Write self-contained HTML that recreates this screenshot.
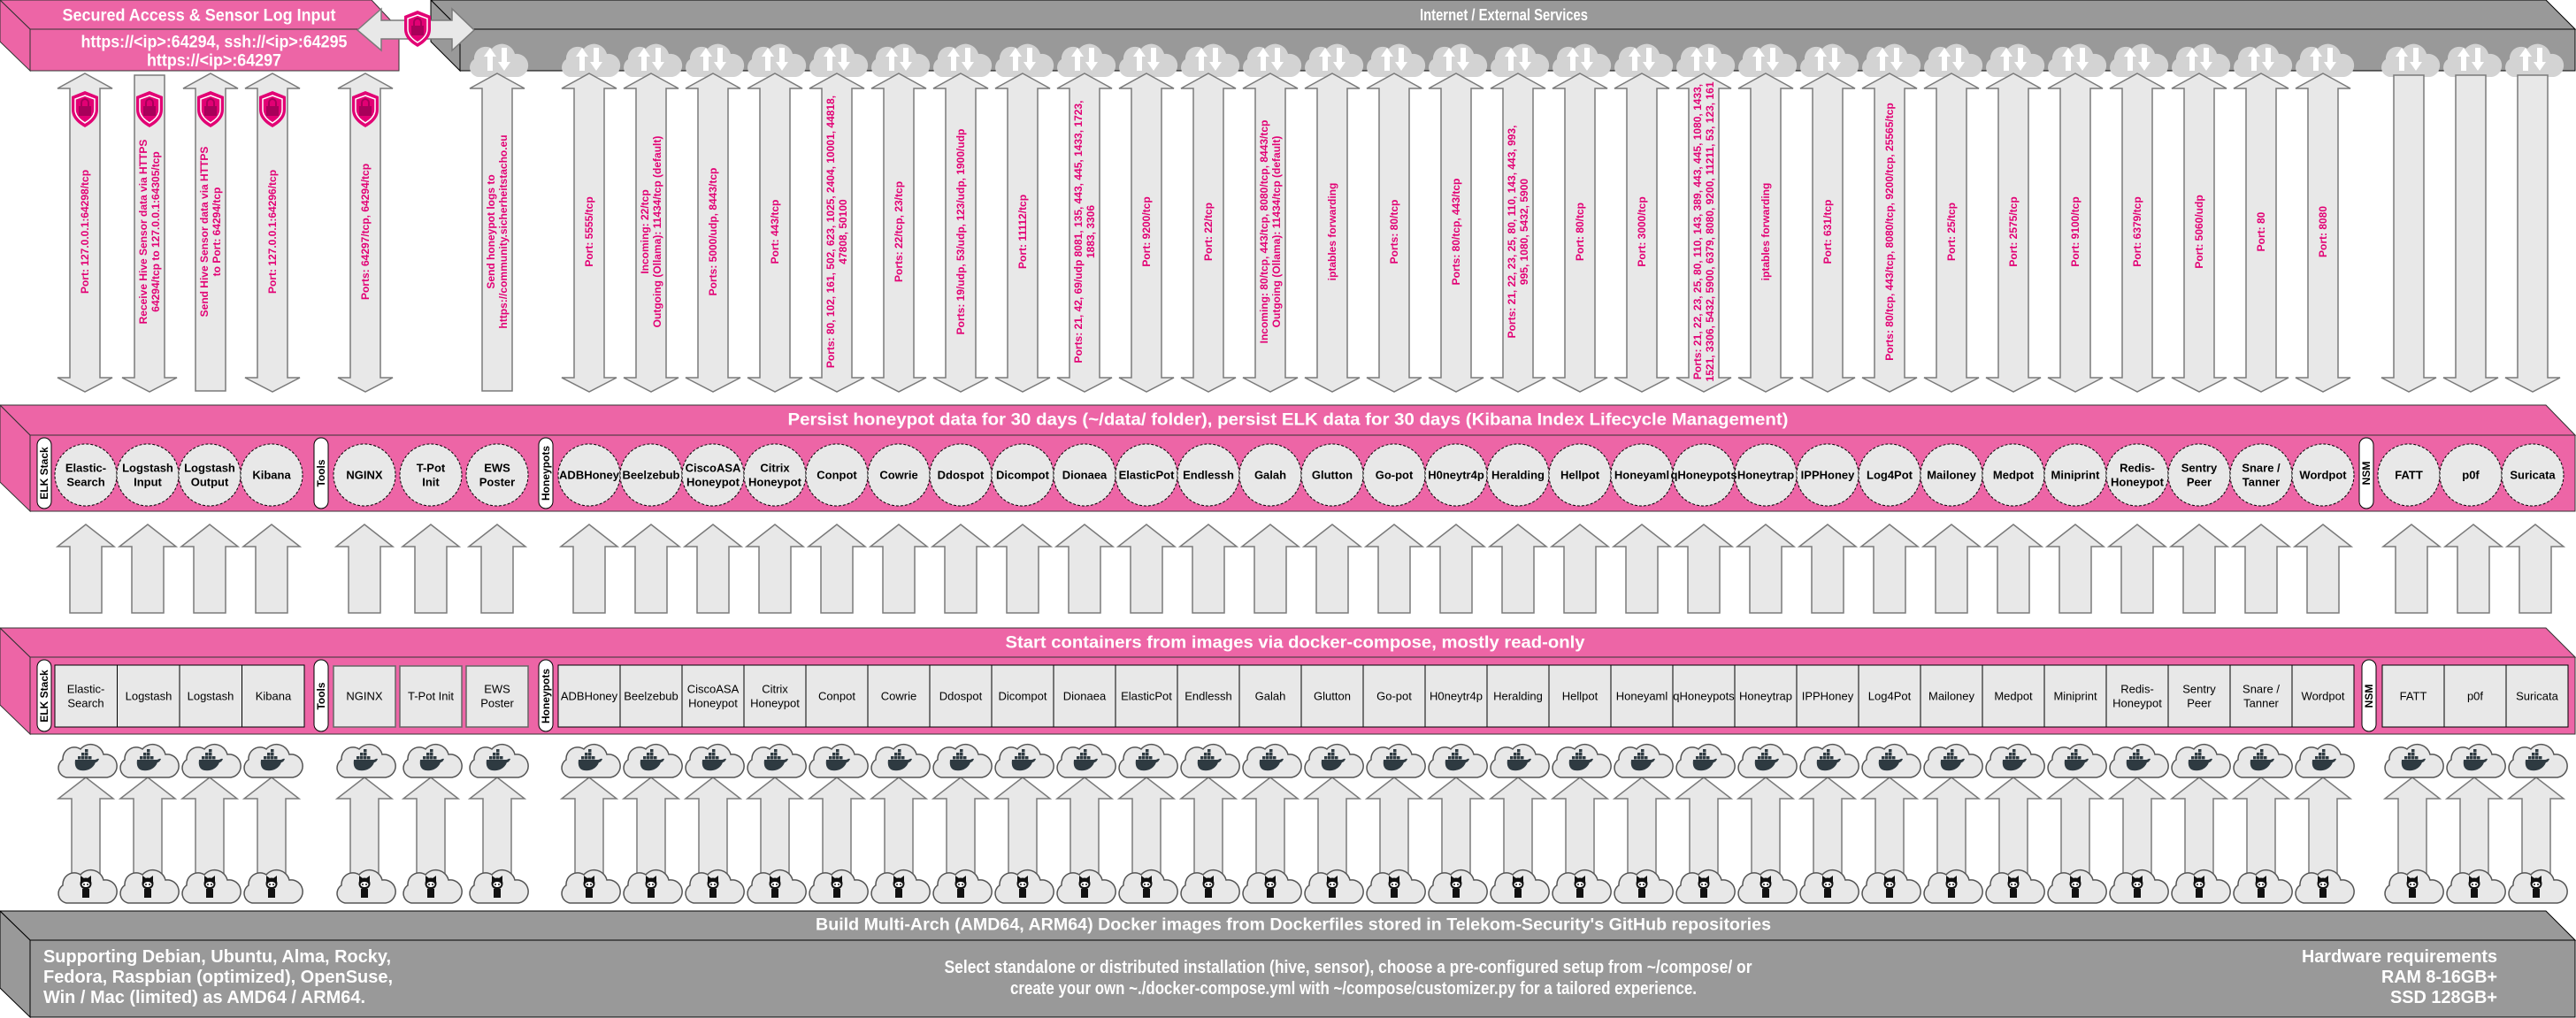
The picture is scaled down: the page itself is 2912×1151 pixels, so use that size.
<!DOCTYPE html>
<html><head><meta charset="utf-8"><style>
html,body{margin:0;padding:0;background:#fff;}
svg{display:block;font-family:"Liberation Sans",Arial,sans-serif;}
.pt{fill:#e20074;font-size:12px;font-weight:bold;text-anchor:middle;dominant-baseline:central;}
.wt{fill:#fff;font-weight:bold;text-anchor:middle;dominant-baseline:central;}
.cb{fill:#000;font-size:13px;font-weight:bold;text-anchor:middle;dominant-baseline:central;}
.cn{fill:#000;font-size:13px;text-anchor:middle;dominant-baseline:central;}
.pl{fill:#000;font-size:12px;font-weight:bold;text-anchor:middle;dominant-baseline:central;}
</style></head><body>
<svg width="2912" height="1151" viewBox="0 0 2912 1151" xmlns="http://www.w3.org/2000/svg">
<defs>
<polygon id="da" points="0,83 31,100 17,100 17,427 31,427 0,443 -31,427 -17,427 -17,100 -31,100" fill="#e8e8e8" stroke="#7a7a7a" stroke-width="1.5"/>
<polygon id="dn" points="-17,85 17,85 17,427 31,427 0,443 -31,427 -17,427" fill="#e8e8e8" stroke="#7a7a7a" stroke-width="1.5"/>
<polygon id="uo" points="0,83 31,100 17,100 17,442 -17,442 -17,100 -31,100" fill="#e8e8e8" stroke="#7a7a7a" stroke-width="1.5"/>
<polygon id="ua" points="0,593 32,618 18,618 18,693 -18,693 -18,618 -32,618" fill="#e8e8e8" stroke="#7a7a7a" stroke-width="1.5"/>
<polygon id="la" points="0,879 31,903 16,903 16,990 -16,990 -16,903 -31,903" fill="#e8e8e8" stroke="#7a7a7a" stroke-width="1.5"/>
<path id="cp" d="M-22,20 A11,11 0 0 1 -26,0 A13,13 0 0 1 -6,-12 A15,15 0 0 1 20,-6 A13,13 0 0 1 24,20 Z"/>
<g id="tc"><use href="#cp" fill="#d3d3d3"/><polygon points="-8,-13 -1,-3 -5,-3 -5,13 -11,13 -11,-3 -15,-3" fill="#fff"/><polygon points="8,13 1,3 5,3 5,-13 11,-13 11,3 15,3" fill="#fff"/></g>
<g id="dc"><use href="#cp" fill="#e8e8e8" stroke="#555" stroke-width="1.5"/><g fill="#2e3a41"><path d="M-12,0 H10 C12,0 13,-2 15,-1 C14,2 12,3 11,3 C8,11 0,13 -6,12 C-11,11 -13,7 -12,0Z"/><rect x="-9" y="-4" width="3.5" height="3.5"/><rect x="-5" y="-4" width="3.5" height="3.5"/><rect x="-1" y="-4" width="3.5" height="3.5"/><rect x="3" y="-4" width="3.5" height="3.5"/><rect x="-5" y="-8" width="3.5" height="3.5"/><rect x="-1" y="-8" width="3.5" height="3.5"/><rect x="-1" y="-12" width="3.5" height="3.5"/></g></g>
<g id="gc"><use href="#cp" fill="#e8e8e8" stroke="#555" stroke-width="1.5"/><g fill="#111"><circle cx="0" cy="-2" r="6.5"/><path d="M-6,-4 L-6,-11 L-2,-8Z M6,-4 L6,-11 L2,-8Z"/><rect x="-4" y="4" width="8" height="10"/></g><ellipse cx="0" cy="-1" rx="4.5" ry="3" fill="#fff"/><circle cx="-2" cy="-1" r="1" fill="#111"/><circle cx="2" cy="-1" r="1" fill="#111"/></g>
<g id="sh"><path d="M0,-20 L15,-14 L15,1 C15,11 7,17 0,21 C-7,17 -15,11 -15,1 L-15,-14Z" fill="#e20074"/><path d="M0,-15 L11,-11 L11,1 C11,8 5,13 0,16 C-5,13 -11,8 -11,1 L-11,-11Z" fill="none" stroke="#fff" stroke-width="1.5"/><rect x="-7" y="-3" width="14" height="11" fill="#a8005a"/><path d="M-4,-3 v-4 a4,4 0 0 1 8,0 v4" fill="none" stroke="#a8005a" stroke-width="2"/></g>
<circle id="ci" cx="0" cy="537" r="35" fill="#e8e8e8" stroke="#000" stroke-width="1" stroke-dasharray="3,2"/>
</defs>

<polygon points="0,0 420,0 451,33 34,33" fill="#ed65a6" stroke="#333" stroke-width="1"/>
<polygon points="0,0 34,33 34,80 0,47" fill="#ed65a6" stroke="#333" stroke-width="1"/>
<rect x="34" y="33" width="417" height="47" fill="#ed65a6" stroke="#333" stroke-width="1"/>
<text class="wt" x="225" y="18" font-size="19" textLength="309" lengthAdjust="spacingAndGlyphs">Secured Access &amp; Sensor Log Input</text>
<text class="wt" x="242" y="48" font-size="19" textLength="301" lengthAdjust="spacingAndGlyphs">https://&lt;ip&gt;:64294, ssh://&lt;ip&gt;:64295</text>
<text class="wt" x="242" y="69" font-size="19" textLength="152" lengthAdjust="spacingAndGlyphs">https://&lt;ip&gt;:64297</text>

<polygon points="487,0 2878,0 2911,33 520,33" fill="#999" stroke="#000" stroke-width="1"/>
<polygon points="487,0 520,33 520,80 487,47" fill="#999" stroke="#000" stroke-width="1"/>
<rect x="520" y="33" width="2391" height="47" fill="#999" stroke="#000" stroke-width="1"/>
<text class="wt" x="1700" y="17" font-size="18" textLength="190" lengthAdjust="spacingAndGlyphs">Internet / External Services</text>

<polygon points="404,34 431,10 431,23 511,23 511,10 536,34 511,57 511,44 431,44 431,57" fill="#e8e8e8" stroke="#7a7a7a" stroke-width="1.5"/>
<use href="#sh" x="472" y="32"/>

<use href="#tc" x="562" y="67"/>
<use href="#tc" x="666" y="67"/><use href="#tc" x="736" y="67"/><use href="#tc" x="806" y="67"/><use href="#tc" x="876" y="67"/><use href="#tc" x="946" y="67"/><use href="#tc" x="1016" y="67"/><use href="#tc" x="1086" y="67"/><use href="#tc" x="1156" y="67"/><use href="#tc" x="1226" y="67"/><use href="#tc" x="1296" y="67"/><use href="#tc" x="1366" y="67"/><use href="#tc" x="1436" y="67"/><use href="#tc" x="1506" y="67"/><use href="#tc" x="1576" y="67"/><use href="#tc" x="1646" y="67"/><use href="#tc" x="1716" y="67"/><use href="#tc" x="1786" y="67"/><use href="#tc" x="1856" y="67"/><use href="#tc" x="1926" y="67"/><use href="#tc" x="1996" y="67"/><use href="#tc" x="2066" y="67"/><use href="#tc" x="2136" y="67"/><use href="#tc" x="2206" y="67"/><use href="#tc" x="2276" y="67"/><use href="#tc" x="2346" y="67"/><use href="#tc" x="2416" y="67"/><use href="#tc" x="2486" y="67"/><use href="#tc" x="2556" y="67"/><use href="#tc" x="2626" y="67"/>
<use href="#tc" x="2723" y="67"/><use href="#tc" x="2793" y="67"/><use href="#tc" x="2863" y="67"/>

<use href="#da" x="96"/><use href="#dn" x="169"/><use href="#uo" x="238"/><use href="#da" x="308"/><use href="#da" x="413"/>
<use href="#uo" x="562"/>
<use href="#da" x="666"/><use href="#da" x="736"/><use href="#da" x="806"/><use href="#da" x="876"/><use href="#da" x="946"/><use href="#da" x="1016"/><use href="#da" x="1086"/><use href="#da" x="1156"/><use href="#da" x="1226"/><use href="#da" x="1296"/><use href="#da" x="1366"/><use href="#da" x="1436"/><use href="#da" x="1506"/><use href="#da" x="1576"/><use href="#da" x="1646"/><use href="#da" x="1716"/><use href="#da" x="1786"/><use href="#da" x="1856"/><use href="#da" x="1926"/><use href="#da" x="1996"/><use href="#da" x="2066"/><use href="#da" x="2136"/><use href="#da" x="2206"/><use href="#da" x="2276"/><use href="#da" x="2346"/><use href="#da" x="2416"/><use href="#da" x="2486"/><use href="#da" x="2556"/><use href="#da" x="2626"/>
<use href="#dn" x="2723"/><use href="#dn" x="2793"/><use href="#dn" x="2863"/>

<use href="#sh" x="96" y="123"/><use href="#sh" x="169" y="123"/><use href="#sh" x="238" y="123"/><use href="#sh" x="308" y="123"/><use href="#sh" x="413" y="123"/>

<text class="pt" transform="translate(96,262) rotate(-90)">Port: 127.0.0.1:64298/tcp</text>
<text class="pt" transform="translate(162,262) rotate(-90)">Receive Hive Sensor data via HTTPS</text>
<text class="pt" transform="translate(176,262) rotate(-90)">64294/tcp to 127.0.0.1:64305/tcp</text>
<text class="pt" transform="translate(231,262) rotate(-90)">Send Hive Sensor data via HTTPS</text>
<text class="pt" transform="translate(245,262) rotate(-90)">to Port: 64294/tcp</text>
<text class="pt" transform="translate(308,262) rotate(-90)">Port: 127.0.0.1:64296/tcp</text>
<text class="pt" transform="translate(413,262) rotate(-90)">Ports: 64297/tcp, 64294/tcp</text>
<text class="pt" transform="translate(555,262) rotate(-90)">Send honeypot logs to</text>
<text class="pt" transform="translate(569,262) rotate(-90)">https://community.sicherheitstacho.eu</text>
<text class="pt" transform="translate(666,262) rotate(-90)">Port: 5555/tcp</text>
<text class="pt" transform="translate(729,262) rotate(-90)">Incoming: 22/tcp</text>
<text class="pt" transform="translate(743,262) rotate(-90)">Outgoing (Ollama): 11434/tcp (default)</text>
<text class="pt" transform="translate(806,262) rotate(-90)">Ports: 5000/udp, 8443/tcp</text>
<text class="pt" transform="translate(876,262) rotate(-90)">Port: 443/tcp</text>
<text class="pt" transform="translate(939,262) rotate(-90)">Ports: 80, 102, 161, 502, 623, 1025, 2404, 10001, 44818,</text>
<text class="pt" transform="translate(953,262) rotate(-90)">47808, 50100</text>
<text class="pt" transform="translate(1016,262) rotate(-90)">Ports: 22/tcp, 23/tcp</text>
<text class="pt" transform="translate(1086,262) rotate(-90)">Ports: 19/udp, 53/udp, 123/udp, 1900/udp</text>
<text class="pt" transform="translate(1156,262) rotate(-90)">Port: 11112/tcp</text>
<text class="pt" transform="translate(1219,262) rotate(-90)">Ports: 21, 42, 69/udp 8081, 135, 443, 445, 1433, 1723,</text>
<text class="pt" transform="translate(1233,262) rotate(-90)">1883, 3306</text>
<text class="pt" transform="translate(1296,262) rotate(-90)">Port: 9200/tcp</text>
<text class="pt" transform="translate(1366,262) rotate(-90)">Port: 22/tcp</text>
<text class="pt" transform="translate(1429,262) rotate(-90)">Incoming: 80/tcp, 443/tcp, 8080/tcp, 8443/tcp</text>
<text class="pt" transform="translate(1443,262) rotate(-90)">Outgoing (Ollama): 11434/tcp (default)</text>
<text class="pt" transform="translate(1506,262) rotate(-90)">iptables forwarding</text>
<text class="pt" transform="translate(1576,262) rotate(-90)">Ports: 80/tcp</text>
<text class="pt" transform="translate(1646,262) rotate(-90)">Ports: 80/tcp, 443/tcp</text>
<text class="pt" transform="translate(1709,262) rotate(-90)">Ports: 21, 22, 23, 25, 80, 110, 143, 443, 993,</text>
<text class="pt" transform="translate(1723,262) rotate(-90)">995, 1080, 5432, 5900</text>
<text class="pt" transform="translate(1786,262) rotate(-90)">Port: 80/tcp</text>
<text class="pt" transform="translate(1856,262) rotate(-90)">Port: 3000/tcp</text>
<text class="pt" transform="translate(1919,262) rotate(-90)" font-size="11.5">Ports: 21, 22, 23, 25, 80, 110, 143, 389, 443, 445, 1080, 1433,</text>
<text class="pt" transform="translate(1933,262) rotate(-90)" font-size="11.5">1521, 3306, 5432, 5900, 6379, 8080, 9200, 11211, 53, 123, 161</text>
<text class="pt" transform="translate(1996,262) rotate(-90)">iptables forwarding</text>
<text class="pt" transform="translate(2066,262) rotate(-90)">Port: 631/tcp</text>
<text class="pt" transform="translate(2136,262) rotate(-90)">Ports: 80/tcp, 443/tcp, 8080/tcp, 9200/tcp, 25565/tcp</text>
<text class="pt" transform="translate(2206,262) rotate(-90)">Port: 25/tcp</text>
<text class="pt" transform="translate(2276,262) rotate(-90)">Port: 2575/tcp</text>
<text class="pt" transform="translate(2346,262) rotate(-90)">Port: 9100/tcp</text>
<text class="pt" transform="translate(2416,262) rotate(-90)">Port: 6379/tcp</text>
<text class="pt" transform="translate(2486,262) rotate(-90)">Port: 5060/udp</text>
<text class="pt" transform="translate(2556,262) rotate(-90)">Port: 80</text>
<text class="pt" transform="translate(2626,262) rotate(-90)">Port: 8080</text>

<polygon points="0,458 2878,458 2911,492 34,492" fill="#ed65a6" stroke="#333" stroke-width="1"/>
<polygon points="0,458 34,492 34,578 0,545" fill="#ed65a6" stroke="#333" stroke-width="1"/>
<rect x="34" y="492" width="2877" height="86" fill="#ed65a6" stroke="#333" stroke-width="1"/>
<text class="wt" x="1456" y="475" font-size="19" textLength="1131" lengthAdjust="spacingAndGlyphs">Persist honeypot data for 30 days (~/data/ folder), persist ELK data for 30 days (Kibana Index Lifecycle Management)</text>

<rect x="42" y="495" width="16" height="80" rx="8" fill="#fff" stroke="#000"/>
<text class="pl" transform="translate(50,535) rotate(-90)">ELK Stack</text>
<rect x="355" y="495" width="16" height="80" rx="8" fill="#fff" stroke="#000"/>
<text class="pl" transform="translate(363,535) rotate(-90)">Tools</text>
<rect x="609" y="495" width="16" height="80" rx="8" fill="#fff" stroke="#000"/>
<text class="pl" transform="translate(617,535) rotate(-90)">Honeypots</text>
<rect x="2667" y="495" width="16" height="80" rx="8" fill="#fff" stroke="#000"/>
<text class="pl" transform="translate(2675,535) rotate(-90)">NSM</text>

<use href="#ci" x="97"/><use href="#ci" x="167"/><use href="#ci" x="237"/><use href="#ci" x="307"/>
<use href="#ci" x="412"/><use href="#ci" x="487"/><use href="#ci" x="562"/>
<use href="#ci" x="666"/><use href="#ci" x="736"/><use href="#ci" x="806"/><use href="#ci" x="876"/><use href="#ci" x="946"/><use href="#ci" x="1016"/><use href="#ci" x="1086"/><use href="#ci" x="1156"/><use href="#ci" x="1226"/><use href="#ci" x="1296"/><use href="#ci" x="1366"/><use href="#ci" x="1436"/><use href="#ci" x="1506"/><use href="#ci" x="1576"/><use href="#ci" x="1646"/><use href="#ci" x="1716"/><use href="#ci" x="1786"/><use href="#ci" x="1856"/><use href="#ci" x="1926"/><use href="#ci" x="1996"/><use href="#ci" x="2066"/><use href="#ci" x="2136"/><use href="#ci" x="2206"/><use href="#ci" x="2276"/><use href="#ci" x="2346"/><use href="#ci" x="2416"/><use href="#ci" x="2486"/><use href="#ci" x="2556"/><use href="#ci" x="2626"/>
<use href="#ci" x="2723"/><use href="#ci" x="2793"/><use href="#ci" x="2863"/>

<text class="cb" x="97" y="529">Elastic-</text><text class="cb" x="97" y="545">Search</text>
<text class="cb" x="167" y="529">Logstash</text><text class="cb" x="167" y="545">Input</text>
<text class="cb" x="237" y="529">Logstash</text><text class="cb" x="237" y="545">Output</text>
<text class="cb" x="307" y="537">Kibana</text>
<text class="cb" x="412" y="537">NGINX</text>
<text class="cb" x="487" y="529">T-Pot</text><text class="cb" x="487" y="545">Init</text>
<text class="cb" x="562" y="529">EWS</text><text class="cb" x="562" y="545">Poster</text>
<text class="cb" x="666" y="537">ADBHoney</text>
<text class="cb" x="736" y="537">Beelzebub</text>
<text class="cb" x="806" y="529">CiscoASA</text><text class="cb" x="806" y="545">Honeypot</text>
<text class="cb" x="876" y="529">Citrix</text><text class="cb" x="876" y="545">Honeypot</text>
<text class="cb" x="946" y="537">Conpot</text>
<text class="cb" x="1016" y="537">Cowrie</text>
<text class="cb" x="1086" y="537">Ddospot</text>
<text class="cb" x="1156" y="537">Dicompot</text>
<text class="cb" x="1226" y="537">Dionaea</text>
<text class="cb" x="1296" y="537">ElasticPot</text>
<text class="cb" x="1366" y="537">Endlessh</text>
<text class="cb" x="1436" y="537">Galah</text>
<text class="cb" x="1506" y="537">Glutton</text>
<text class="cb" x="1576" y="537">Go-pot</text>
<text class="cb" x="1646" y="537">H0neytr4p</text>
<text class="cb" x="1716" y="537">Heralding</text>
<text class="cb" x="1786" y="537">Hellpot</text>
<text class="cb" x="1856" y="537">Honeyaml</text>
<text class="cb" x="1926" y="537" font-size="12">qHoneypots</text>
<text class="cb" x="1996" y="537">Honeytrap</text>
<text class="cb" x="2066" y="537">IPPHoney</text>
<text class="cb" x="2136" y="537">Log4Pot</text>
<text class="cb" x="2206" y="537">Mailoney</text>
<text class="cb" x="2276" y="537">Medpot</text>
<text class="cb" x="2346" y="537">Miniprint</text>
<text class="cb" x="2416" y="529">Redis-</text><text class="cb" x="2416" y="545">Honeypot</text>
<text class="cb" x="2486" y="529">Sentry</text><text class="cb" x="2486" y="545">Peer</text>
<text class="cb" x="2556" y="529">Snare /</text><text class="cb" x="2556" y="545">Tanner</text>
<text class="cb" x="2626" y="537">Wordpot</text>
<text class="cb" x="2723" y="537">FATT</text>
<text class="cb" x="2793" y="537">p0f</text>
<text class="cb" x="2863" y="537">Suricata</text>

<use href="#ua" x="97"/><use href="#ua" x="167"/><use href="#ua" x="237"/><use href="#ua" x="307"/>
<use href="#ua" x="412"/><use href="#ua" x="487"/><use href="#ua" x="562"/>
<use href="#ua" x="666"/><use href="#ua" x="736"/><use href="#ua" x="806"/><use href="#ua" x="876"/><use href="#ua" x="946"/><use href="#ua" x="1016"/><use href="#ua" x="1086"/><use href="#ua" x="1156"/><use href="#ua" x="1226"/><use href="#ua" x="1296"/><use href="#ua" x="1366"/><use href="#ua" x="1436"/><use href="#ua" x="1506"/><use href="#ua" x="1576"/><use href="#ua" x="1646"/><use href="#ua" x="1716"/><use href="#ua" x="1786"/><use href="#ua" x="1856"/><use href="#ua" x="1926"/><use href="#ua" x="1996"/><use href="#ua" x="2066"/><use href="#ua" x="2136"/><use href="#ua" x="2206"/><use href="#ua" x="2276"/><use href="#ua" x="2346"/><use href="#ua" x="2416"/><use href="#ua" x="2486"/><use href="#ua" x="2556"/><use href="#ua" x="2626"/>
<use href="#ua" x="2726"/><use href="#ua" x="2796"/><use href="#ua" x="2866"/>

<polygon points="0,710 2878,710 2911,743 34,743" fill="#ed65a6" stroke="#333" stroke-width="1"/>
<polygon points="0,710 34,743 34,830 0,797" fill="#ed65a6" stroke="#333" stroke-width="1"/>
<rect x="34" y="743" width="2877" height="87" fill="#ed65a6" stroke="#333" stroke-width="1"/>
<text class="wt" x="1464" y="727" font-size="19" textLength="655" lengthAdjust="spacingAndGlyphs">Start containers from images via docker-compose, mostly read-only</text>

<rect x="42" y="746" width="16" height="81" rx="8" fill="#fff" stroke="#000"/>
<text class="pl" transform="translate(50,787) rotate(-90)">ELK Stack</text>
<rect x="355" y="746" width="16" height="81" rx="8" fill="#fff" stroke="#000"/>
<text class="pl" transform="translate(363,787) rotate(-90)">Tools</text>
<rect x="609" y="746" width="16" height="81" rx="8" fill="#fff" stroke="#000"/>
<text class="pl" transform="translate(617,787) rotate(-90)">Honeypots</text>
<rect x="2670" y="746" width="16" height="81" rx="8" fill="#fff" stroke="#000"/>
<text class="pl" transform="translate(2678,787) rotate(-90)">NSM</text>

<g fill="#e8e8e8" stroke="#000" stroke-width="1">
<rect x="62" y="752" width="282" height="70"/>
<line x1="132.5" y1="752" x2="132.5" y2="822"/><line x1="203" y1="752" x2="203" y2="822"/><line x1="273.5" y1="752" x2="273.5" y2="822"/>
</g>
<g fill="#e8e8e8" stroke="#666" stroke-width="1.5">
<rect x="377" y="753" width="70" height="69"/><rect x="452" y="753" width="70" height="69"/><rect x="527" y="753" width="70" height="69"/>
</g>
<g fill="#e8e8e8" stroke="#000" stroke-width="1">
<rect x="631" y="752" width="2030" height="70"/>
<rect x="2693" y="752" width="210" height="70"/>
<path d="M701,752V822M771,752V822M841,752V822M911,752V822M981,752V822M1051,752V822M1121,752V822M1191,752V822M1261,752V822M1331,752V822M1401,752V822M1471,752V822M1541,752V822M1611,752V822M1681,752V822M1751,752V822M1821,752V822M1891,752V822M1961,752V822M2031,752V822M2101,752V822M2171,752V822M2241,752V822M2311,752V822M2381,752V822M2451,752V822M2521,752V822M2591,752V822M2763,752V822M2833,752V822"/>
</g>

<text class="cn" x="97" y="779">Elastic-</text><text class="cn" x="97" y="795">Search</text>
<text class="cn" x="168" y="787">Logstash</text>
<text class="cn" x="238" y="787">Logstash</text>
<text class="cn" x="309" y="787">Kibana</text>
<text class="cn" x="412" y="787">NGINX</text>
<text class="cn" x="487" y="787">T-Pot Init</text>
<text class="cn" x="562" y="779">EWS</text><text class="cn" x="562" y="795">Poster</text>
<text class="cn" x="666" y="787">ADBHoney</text>
<text class="cn" x="736" y="787">Beelzebub</text>
<text class="cn" x="806" y="779">CiscoASA</text><text class="cn" x="806" y="795">Honeypot</text>
<text class="cn" x="876" y="779">Citrix</text><text class="cn" x="876" y="795">Honeypot</text>
<text class="cn" x="946" y="787">Conpot</text>
<text class="cn" x="1016" y="787">Cowrie</text>
<text class="cn" x="1086" y="787">Ddospot</text>
<text class="cn" x="1156" y="787">Dicompot</text>
<text class="cn" x="1226" y="787">Dionaea</text>
<text class="cn" x="1296" y="787">ElasticPot</text>
<text class="cn" x="1366" y="787">Endlessh</text>
<text class="cn" x="1436" y="787">Galah</text>
<text class="cn" x="1506" y="787">Glutton</text>
<text class="cn" x="1576" y="787">Go-pot</text>
<text class="cn" x="1646" y="787">H0neytr4p</text>
<text class="cn" x="1716" y="787">Heralding</text>
<text class="cn" x="1786" y="787">Hellpot</text>
<text class="cn" x="1856" y="787">Honeyaml</text>
<text class="cn" x="1926" y="787" font-size="12">qHoneypots</text>
<text class="cn" x="1996" y="787">Honeytrap</text>
<text class="cn" x="2066" y="787">IPPHoney</text>
<text class="cn" x="2136" y="787">Log4Pot</text>
<text class="cn" x="2206" y="787">Mailoney</text>
<text class="cn" x="2276" y="787">Medpot</text>
<text class="cn" x="2346" y="787">Miniprint</text>
<text class="cn" x="2416" y="779">Redis-</text><text class="cn" x="2416" y="795">Honeypot</text>
<text class="cn" x="2486" y="779">Sentry</text><text class="cn" x="2486" y="795">Peer</text>
<text class="cn" x="2556" y="779">Snare /</text><text class="cn" x="2556" y="795">Tanner</text>
<text class="cn" x="2626" y="787">Wordpot</text>
<text class="cn" x="2728" y="787">FATT</text>
<text class="cn" x="2798" y="787">p0f</text>
<text class="cn" x="2868" y="787">Suricata</text>

<use href="#la" x="97"/><use href="#la" x="167"/><use href="#la" x="237"/><use href="#la" x="307"/>
<use href="#la" x="412"/><use href="#la" x="487"/><use href="#la" x="562"/>
<use href="#la" x="666"/><use href="#la" x="736"/><use href="#la" x="806"/><use href="#la" x="876"/><use href="#la" x="946"/><use href="#la" x="1016"/><use href="#la" x="1086"/><use href="#la" x="1156"/><use href="#la" x="1226"/><use href="#la" x="1296"/><use href="#la" x="1366"/><use href="#la" x="1436"/><use href="#la" x="1506"/><use href="#la" x="1576"/><use href="#la" x="1646"/><use href="#la" x="1716"/><use href="#la" x="1786"/><use href="#la" x="1856"/><use href="#la" x="1926"/><use href="#la" x="1996"/><use href="#la" x="2066"/><use href="#la" x="2136"/><use href="#la" x="2206"/><use href="#la" x="2276"/><use href="#la" x="2346"/><use href="#la" x="2416"/><use href="#la" x="2486"/><use href="#la" x="2556"/><use href="#la" x="2626"/>
<use href="#la" x="2727"/><use href="#la" x="2797"/><use href="#la" x="2867"/>

<use href="#dc" x="97" y="859"/><use href="#dc" x="167" y="859"/><use href="#dc" x="237" y="859"/><use href="#dc" x="307" y="859"/>
<use href="#dc" x="412" y="859"/><use href="#dc" x="487" y="859"/><use href="#dc" x="562" y="859"/>
<use href="#dc" x="666" y="859"/><use href="#dc" x="736" y="859"/><use href="#dc" x="806" y="859"/><use href="#dc" x="876" y="859"/><use href="#dc" x="946" y="859"/><use href="#dc" x="1016" y="859"/><use href="#dc" x="1086" y="859"/><use href="#dc" x="1156" y="859"/><use href="#dc" x="1226" y="859"/><use href="#dc" x="1296" y="859"/><use href="#dc" x="1366" y="859"/><use href="#dc" x="1436" y="859"/><use href="#dc" x="1506" y="859"/><use href="#dc" x="1576" y="859"/><use href="#dc" x="1646" y="859"/><use href="#dc" x="1716" y="859"/><use href="#dc" x="1786" y="859"/><use href="#dc" x="1856" y="859"/><use href="#dc" x="1926" y="859"/><use href="#dc" x="1996" y="859"/><use href="#dc" x="2066" y="859"/><use href="#dc" x="2136" y="859"/><use href="#dc" x="2206" y="859"/><use href="#dc" x="2276" y="859"/><use href="#dc" x="2346" y="859"/><use href="#dc" x="2416" y="859"/><use href="#dc" x="2486" y="859"/><use href="#dc" x="2556" y="859"/><use href="#dc" x="2626" y="859"/>
<use href="#dc" x="2727" y="859"/><use href="#dc" x="2797" y="859"/><use href="#dc" x="2867" y="859"/>

<use href="#gc" x="97" y="1001"/><use href="#gc" x="167" y="1001"/><use href="#gc" x="237" y="1001"/><use href="#gc" x="307" y="1001"/>
<use href="#gc" x="412" y="1001"/><use href="#gc" x="487" y="1001"/><use href="#gc" x="562" y="1001"/>
<use href="#gc" x="666" y="1001"/><use href="#gc" x="736" y="1001"/><use href="#gc" x="806" y="1001"/><use href="#gc" x="876" y="1001"/><use href="#gc" x="946" y="1001"/><use href="#gc" x="1016" y="1001"/><use href="#gc" x="1086" y="1001"/><use href="#gc" x="1156" y="1001"/><use href="#gc" x="1226" y="1001"/><use href="#gc" x="1296" y="1001"/><use href="#gc" x="1366" y="1001"/><use href="#gc" x="1436" y="1001"/><use href="#gc" x="1506" y="1001"/><use href="#gc" x="1576" y="1001"/><use href="#gc" x="1646" y="1001"/><use href="#gc" x="1716" y="1001"/><use href="#gc" x="1786" y="1001"/><use href="#gc" x="1856" y="1001"/><use href="#gc" x="1926" y="1001"/><use href="#gc" x="1996" y="1001"/><use href="#gc" x="2066" y="1001"/><use href="#gc" x="2136" y="1001"/><use href="#gc" x="2206" y="1001"/><use href="#gc" x="2276" y="1001"/><use href="#gc" x="2346" y="1001"/><use href="#gc" x="2416" y="1001"/><use href="#gc" x="2486" y="1001"/><use href="#gc" x="2556" y="1001"/><use href="#gc" x="2626" y="1001"/>
<use href="#gc" x="2727" y="1001"/><use href="#gc" x="2797" y="1001"/><use href="#gc" x="2867" y="1001"/>

<polygon points="0,1030 2878,1030 2911,1063 34,1063" fill="#999" stroke="#000" stroke-width="1"/>
<polygon points="0,1030 34,1063 34,1150 0,1117" fill="#999" stroke="#000" stroke-width="1"/>
<rect x="34" y="1063" width="2877" height="87" fill="#999" stroke="#000" stroke-width="1"/>
<text class="wt" x="1462" y="1046" font-size="19" textLength="1080" lengthAdjust="spacingAndGlyphs">Build Multi-Arch (AMD64, ARM64) Docker images from Dockerfiles stored in Telekom-Security's GitHub repositories</text>
<text class="wt" x="49" y="1082" font-size="20" style="text-anchor:start" textLength="393" lengthAdjust="spacingAndGlyphs">Supporting Debian, Ubuntu, Alma, Rocky,</text>
<text class="wt" x="49" y="1105" font-size="20" style="text-anchor:start" textLength="395" lengthAdjust="spacingAndGlyphs">Fedora, Raspbian (optimized), OpenSuse,</text>
<text class="wt" x="49" y="1128" font-size="20" style="text-anchor:start" textLength="364" lengthAdjust="spacingAndGlyphs">Win / Mac (limited) as AMD64 / ARM64.</text>
<text class="wt" x="1524" y="1094" font-size="20" textLength="913" lengthAdjust="spacingAndGlyphs">Select standalone or distributed installation (hive, sensor), choose a pre-configured setup from ~/compose/ or</text>
<text class="wt" x="1530" y="1118" font-size="20" textLength="776" lengthAdjust="spacingAndGlyphs">create your own ~./docker-compose.yml with ~/compose/customizer.py for a tailored experience.</text>
<text class="wt" x="2823" y="1082" font-size="20" style="text-anchor:end" textLength="221" lengthAdjust="spacingAndGlyphs">Hardware requirements</text>
<text class="wt" x="2823" y="1105" font-size="20" style="text-anchor:end" textLength="131" lengthAdjust="spacingAndGlyphs">RAM 8-16GB+</text>
<text class="wt" x="2823" y="1128" font-size="20" style="text-anchor:end" textLength="121" lengthAdjust="spacingAndGlyphs">SSD 128GB+</text>
</svg>
</body></html>
